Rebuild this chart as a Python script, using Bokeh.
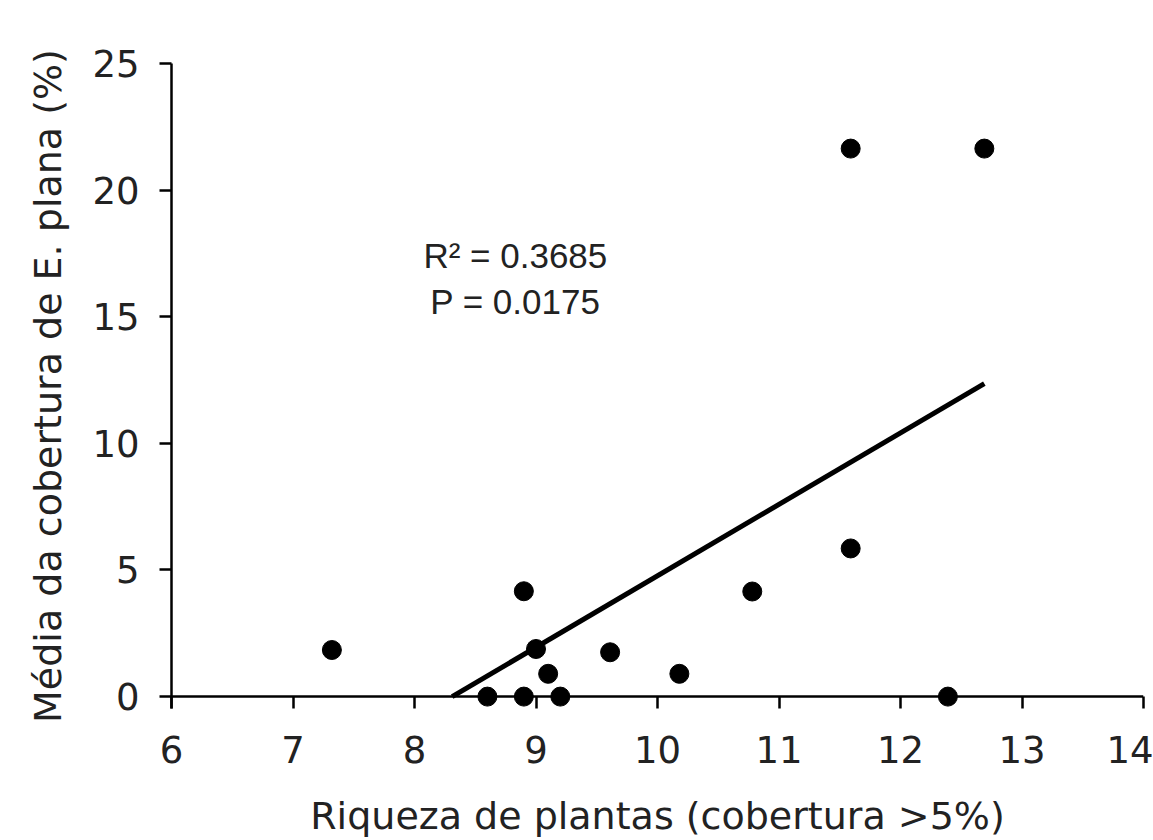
from bokeh.plotting import figure
from bokeh.models import Range1d, FixedTicker, ColumnDataSource, Span
from bokeh.core.properties import value
from bokeh.embed import file_html
from bokeh.resources import INLINE

# data
riqueza = [7.32, 8.60, 8.90, 8.90, 9.00, 9.10, 9.20, 9.61, 10.18, 10.78, 11.59, 11.59, 12.39, 12.69]
cobertura = [1.84, 0.0, 0.0, 4.16, 1.88, 0.90, 0.0, 1.75, 0.90, 4.15, 5.85, 21.64, 0.0, 21.64]
fit_x = [8.31, 12.69]
fit_y = [0.0, 12.36]
x_ticks = [6, 7, 8, 9, 10, 11, 12, 13, 14]
y_ticks = [0, 5, 10, 15, 20, 25]
stats_text = ["R\u00b2 = 0.3685", "P = 0.0175"]
stats_x = [8.83, 8.83]
stats_y = [17.4, 15.6]

p = figure(width=1153, height=840, output_backend="svg", toolbar_location=None,
           x_range=Range1d(6, 14), y_range=Range1d(-0.47, 25),
           min_border_left=171, min_border_right=10, min_border_top=63, min_border_bottom=132)
p.outline_line_color = None
p.grid.visible = False
p.background_fill_color = "white"
p.border_fill_color = "white"

p.line(fit_x, fit_y, line_color="black", line_width=5)
p.scatter(riqueza, cobertura, size=19, fill_color="black", line_color="black")

src = ColumnDataSource(dict(x=stats_x, y=stats_y, t=stats_text))
p.text(x="x", y="y", text="t", source=src, text_align="center", text_baseline="middle",
       text_font=value("Liberation Sans"), text_font_size="35px", text_color="#222222")

for ax in (p.xaxis[0], p.yaxis[0]):
    ax.axis_line_width = 2.5
    ax.axis_line_color = "black"
    ax.major_tick_line_width = 2.5
    ax.major_tick_line_color = "black"
    ax.minor_tick_line_color = None
    ax.major_label_text_font = "DejaVu Sans"
    ax.major_label_text_font_size = "37px"
    ax.major_label_text_color = "#222222"
    ax.axis_label_text_font = "DejaVu Sans"
    ax.axis_label_text_font_size = "38px"
    ax.axis_label_text_font_style = "normal"
    ax.axis_label_text_color = "#222222"

# y axis: ticks outside
p.yaxis.major_tick_out = 12
p.yaxis.major_tick_in = 0
p.yaxis.major_label_standoff = 20
p.yaxis.axis_label_standoff = 19

# x axis: line drawn at y = 0, ticks hang below it down to the frame edge
p.xaxis.axis_line_color = None
p.xaxis.major_tick_out = 0
p.xaxis.major_tick_in = 12
p.xaxis.major_label_standoff = 27
p.xaxis.axis_label_standoff = 28
p.add_layout(Span(location=0, dimension="width", line_color="black", line_width=2.5))

p.xaxis.ticker = FixedTicker(ticks=x_ticks)
p.yaxis.ticker = FixedTicker(ticks=y_ticks)
p.xaxis.axis_label = "Riqueza de plantas (cobertura >5%)"
p.yaxis.axis_label = "Média da cobertura de E. plana (%)"

open("out.html", "w").write(file_html(p, INLINE))
